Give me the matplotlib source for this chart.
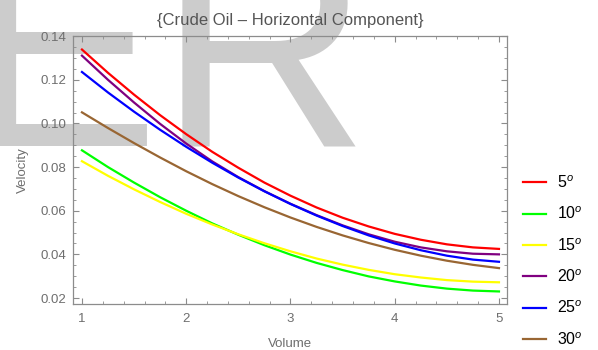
import matplotlib
matplotlib.use("Agg")
import matplotlib.pyplot as plt
from matplotlib.ticker import MultipleLocator

plt.rcParams['font.family'] = ['Liberation Sans', 'DejaVu Sans']
plt.rcParams['mathtext.fontset'] = 'custom'
plt.rcParams['mathtext.rm'] = 'Liberation Sans'
plt.rcParams['mathtext.it'] = 'Liberation Sans:italic'

# volume values (x) and velocity readings for each angle
volume = [1.0, 1.25, 1.5, 1.75, 2.0, 2.25, 2.5, 2.75, 3.0,
          3.25, 3.5, 3.75, 4.0, 4.25, 4.5, 4.75, 5.0]

v_5 = [0.1339, 0.1232, 0.1132, 0.1038, 0.0951, 0.0870, 0.0797, 0.0729, 0.0669,
       0.0615, 0.0568, 0.0528, 0.0494, 0.0467, 0.0446, 0.0432, 0.0425]
v_10 = [0.0877, 0.0800, 0.0729, 0.0662, 0.0600, 0.0542, 0.0490, 0.0442, 0.0399,
        0.0361, 0.0328, 0.0299, 0.0276, 0.0257, 0.0243, 0.0234, 0.0230]
v_15 = [0.0827, 0.0760, 0.0698, 0.0640, 0.0586, 0.0537, 0.0492, 0.0451, 0.0414,
        0.0381, 0.0353, 0.0329, 0.0309, 0.0294, 0.0282, 0.0275, 0.0272]
v_20 = [0.1311, 0.1200, 0.1096, 0.0998, 0.0908, 0.0826, 0.0754, 0.0690, 0.0632,
        0.0580, 0.0533, 0.0492, 0.0458, 0.0432, 0.0414, 0.0403, 0.0400]
v_25 = [0.1236, 0.1142, 0.1054, 0.0971, 0.0893, 0.0820, 0.0752, 0.0689, 0.0631,
        0.0578, 0.0530, 0.0487, 0.0450, 0.0419, 0.0394, 0.0376, 0.0366]
v_30 = [0.1051, 0.0979, 0.0910, 0.0844, 0.0781, 0.0722, 0.0667, 0.0616, 0.0569,
        0.0526, 0.0487, 0.0452, 0.0421, 0.0394, 0.0371, 0.0352, 0.0337]

series = [v_5, v_10, v_15, v_20, v_25, v_30]
labels = [r'5$^o$', r'10$^o$', r'15$^o$', r'20$^o$', r'25$^o$', r'30$^o$']
colors = ['#ff0000', '#00ff00', '#ffff00', '#800080', '#0000ff', '#996633']

fig = plt.figure(figsize=(5.98, 3.5), dpi=100)

# big gray watermark behind the plot
fig.text(-36 / 598, 1 - 145 / 350, 'ER', fontsize=210, color='#cccccc',
         ha='left', va='baseline', zorder=-5)

ax = fig.add_axes([73 / 598, 1 - 304 / 350, 434 / 598, 268 / 350])
ax.set_facecolor('none')

for vals, lab, col in zip(series, labels, colors):
    ax.plot(volume, vals, color=col, lw=1.6, label=lab)

ax.set_xlim(0.914, 5.077)
ax.set_ylim(0.01725, 0.1401)
ax.xaxis.set_major_locator(MultipleLocator(1))
ax.xaxis.set_minor_locator(MultipleLocator(0.2))
ax.yaxis.set_major_locator(MultipleLocator(0.02))
ax.yaxis.set_minor_locator(MultipleLocator(0.005))
ax.yaxis.set_major_formatter(plt.FuncFormatter(lambda v, p: '%.2f' % v))

framecol = '#8c8c8c'
for s in ax.spines.values():
    s.set_color(framecol)
    s.set_linewidth(0.9)
ax.tick_params(which='both', direction='in', top=True, right=True,
               color=framecol, labelcolor='#6e6e6e', labelsize=9.5)
ax.tick_params(which='major', length=4, width=0.8, pad=5)
ax.tick_params(which='minor', length=2.2, width=0.6)
ax.tick_params(axis='x', which='major', pad=6.5)

ax.set_title('{Crude Oil – Horizontal Component}', fontsize=12,
             color='#555555', pad=8)
ax.set_xlabel('Volume', fontsize=9.5, color='#6e6e6e', labelpad=9)
ax.set_ylabel('Velocity', fontsize=9.5, color='#6e6e6e', labelpad=8)

ax.legend(loc='center left', bbox_to_anchor=(523 / 598, 1 - 261 / 350),
          bbox_transform=fig.transFigure, frameon=False, fontsize=11.5,
          handlelength=1.45, handletextpad=0.65, labelspacing=0.92,
          borderpad=0, borderaxespad=0)

fig.savefig('out.png', dpi=100)
